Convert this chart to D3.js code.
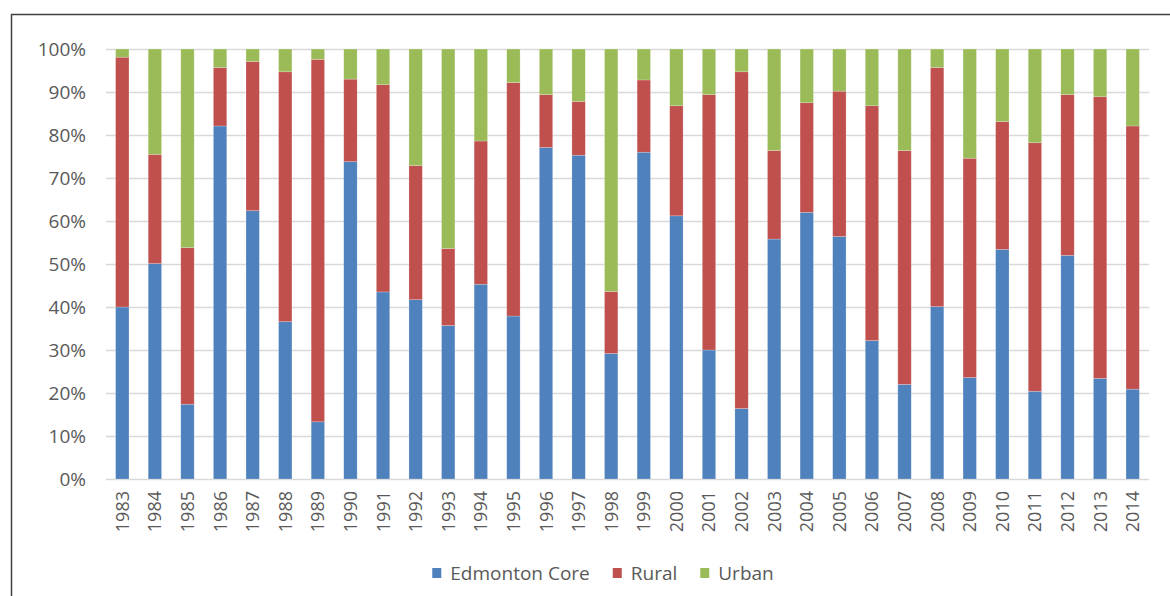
<!DOCTYPE html>
<html>
<head>
<meta charset="utf-8">
<script src="https://cdn.jsdelivr.net/npm/d3@7"></script>
<style>
  body { margin: 0; background: #fff; }
  text { font-family: "Open Sans", sans-serif; fill: #595959; }
</style>
</head>
<body>
<script>
// data (percent of total per year)
var years = ["1983","1984","1985","1986","1987","1988","1989","1990","1991","1992","1993","1994","1995","1996","1997","1998",
             "1999","2000","2001","2002","2003","2004","2005","2006","2007","2008","2009","2010","2011","2012","2013","2014"];
var edmontonCore = [40.0,50.1,17.4,82.1,62.4,36.6,13.3,73.8,43.5,41.7,35.7,45.3,37.9,77.1,75.3,29.2,
                    76.0,61.2,30.0,16.4,55.8,62.0,56.4,32.2,22.0,40.1,23.6,53.4,20.4,52.0,23.4,20.9];
var rural = [58.1,25.4,36.4,13.6,34.7,58.1,84.3,19.2,48.2,31.2,17.9,33.3,54.3,12.3,12.5,14.4,
             16.8,25.6,59.4,78.3,20.6,25.5,33.8,54.6,54.4,55.6,51.0,29.7,57.8,37.4,65.5,61.2];
var urban = [1.9,24.5,46.2,4.3,2.9,5.3,2.4,7.0,8.3,27.1,46.4,21.4,7.8,10.6,12.2,56.4,
             7.2,13.2,10.6,5.3,23.6,12.5,9.8,13.2,23.6,4.3,25.4,16.9,21.8,10.6,11.1,17.9];
var seriesNames = ["Edmonton Core", "Rural", "Urban"];
var colors = ["#4F81BD", "#C0504D", "#9BBB59"];
var yTicks = [0,10,20,30,40,50,60,70,80,90,100];

var width = 1170;
var height = 596;
var plot = {left: 106, right: 1149, top: 49, bottom: 479};

var svg = d3.select("body")
  .append("svg")
  .attr("width", width)
  .attr("height", height);

// chart frame (runs off the right and bottom of the picture)
svg.append("rect")
  .attr("x", 11.5)
  .attr("y", 14.5)
  .attr("width", 1300)
  .attr("height", 700)
  .attr("fill", "none")
  .attr("stroke", "#404040")
  .attr("stroke-width", 1.5);

var rows = years.map(function(y, i){
  return {year: y, "Edmonton Core": edmontonCore[i], "Rural": rural[i], "Urban": urban[i]};
});

var stacked = d3.stack().keys(seriesNames).offset(d3.stackOffsetExpand)(rows);

var x = d3.scaleBand()
  .domain(years)
  .range([plot.left, plot.right])
  .paddingInner(0.59)
  .paddingOuter(0.295);

var y = d3.scaleLinear()
  .domain([0, 100])
  .range([plot.bottom, plot.top]);

// gridlines + y labels
var yAxis = svg.append("g")
  .attr("transform", "translate(" + plot.left + ",0)")
  .call(d3.axisLeft(y)
    .tickValues(yTicks)
    .tickSize(-(plot.right - plot.left))
    .tickPadding(20)
    .tickFormat(function(d){ return d + "%"; }));
yAxis.select(".domain").remove();
yAxis.selectAll(".tick line")
  .attr("stroke", "#D9D9D9")
  .attr("stroke-width", 1.5);
yAxis.selectAll(".tick text")
  .attr("font-size", 19)
  .attr("font-family", "Open Sans")
  .attr("fill", "#595959");

// bars
var layers = svg.selectAll(".layer")
  .data(stacked)
  .enter()
  .append("g")
  .attr("class", "layer")
  .attr("fill", function(d, i){ return colors[i]; });

layers.selectAll("rect")
  .data(function(d){ return d; })
  .enter()
  .append("rect")
  .attr("x", function(d){ return x(d.data.year); })
  .attr("y", function(d){ return y(d[1] * 100); })
  .attr("width", x.bandwidth())
  .attr("height", function(d){ return y(d[0] * 100) - y(d[1] * 100); })
  .attr("stroke", "#ffffff")
  .attr("stroke-opacity", 0.35)
  .attr("stroke-width", 0.6);

// x labels, rotated
var xAxis = svg.append("g")
  .attr("transform", "translate(0," + plot.bottom + ")")
  .call(d3.axisBottom(x).tickSize(0));
xAxis.select(".domain").remove();
xAxis.selectAll(".tick text")
  .attr("font-size", 18)
  .attr("font-family", "Open Sans")
  .attr("fill", "#595959")
  .attr("text-anchor", "end")
  .attr("transform", "rotate(-90)")
  .attr("x", -12)
  .attr("y", 0)
  .attr("dy", "0.36em");

// legend
var legend = svg.append("g").attr("class", "legend");
var lx = 0;
seriesNames.forEach(function(name, i){
  var item = legend.append("g").attr("transform", "translate(" + lx + ",0)");
  item.append("rect")
    .attr("x", 0)
    .attr("y", -5)
    .attr("width", 9)
    .attr("height", 10)
    .attr("fill", colors[i]);
  var t = item.append("text")
    .attr("x", 18)
    .attr("y", 0)
    .attr("dy", "0.36em")
    .attr("font-size", 19)
    .text(name);
  lx += 18 + t.node().getComputedTextLength() + 23;
});
var legendWidth = lx - 23;
legend.attr("transform", "translate(" + (603 - legendWidth / 2) + ",573)");
</script>
</body>
</html>
